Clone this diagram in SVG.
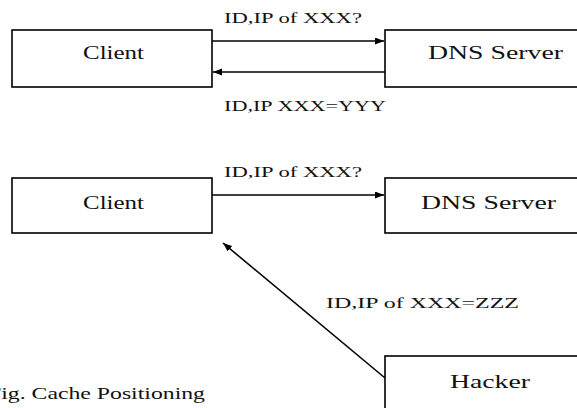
<svg xmlns="http://www.w3.org/2000/svg" width="577" height="408" viewBox="0 0 577 408">
<style>
.box{fill:#fff;stroke:#000;stroke-width:1.6}
.conn{stroke:#000;stroke-width:1.6;fill:none}
text{font-family:'Liberation Serif','Times New Roman',Times,serif;fill:#111}
.n{font-size:19px}
.l{font-size:15px}
</style>
<defs>
<marker id="ah" markerUnits="userSpaceOnUse" markerWidth="10" markerHeight="8" refX="9" refY="3.5" orient="auto">
<path d="M0,0 L9,3.5 L0,7 z" fill="#000"/>
</marker>
</defs>
<rect width="577" height="408" fill="#fff"/>
<g id="client1">
<rect class="box" x="12" y="30" width="200" height="57"/>
<text class="n" x="83" y="59" textLength="61" lengthAdjust="spacingAndGlyphs">Client</text>
</g>
<g id="dns1">
<rect class="box" x="385" y="30" width="200" height="57"/>
<text class="n" x="428" y="59" textLength="135" lengthAdjust="spacingAndGlyphs">DNS Server</text>
</g>
<g id="client2">
<rect class="box" x="12" y="178" width="200" height="55"/>
<text class="n" x="83" y="209" textLength="61" lengthAdjust="spacingAndGlyphs">Client</text>
</g>
<g id="dns2">
<rect class="box" x="385" y="178" width="200" height="55"/>
<text class="n" x="421" y="209" textLength="135" lengthAdjust="spacingAndGlyphs">DNS Server</text>
</g>
<g id="hacker">
<rect class="box" x="385" y="356" width="200" height="60"/>
<text class="n" x="450" y="388" textLength="80" lengthAdjust="spacingAndGlyphs">Hacker</text>
</g>
<g id="connectors">
<line class="conn" x1="212" y1="41" x2="384" y2="41" marker-end="url(#ah)"/>
<line class="conn" x1="385" y1="72" x2="213" y2="72" marker-end="url(#ah)"/>
<line class="conn" x1="212" y1="195" x2="384" y2="195" marker-end="url(#ah)"/>
<line class="conn" x1="385" y1="378" x2="223" y2="243" marker-end="url(#ah)"/>
</g>
<g id="labels">
<text class="l" x="224" y="23" textLength="138" lengthAdjust="spacingAndGlyphs">ID,IP of XXX?</text>
<text class="l" x="224" y="111" textLength="162" lengthAdjust="spacingAndGlyphs">ID,IP XXX=YYY</text>
<text class="l" x="224" y="177" textLength="138" lengthAdjust="spacingAndGlyphs">ID,IP of XXX?</text>
<text class="l" x="326" y="308" textLength="193" lengthAdjust="spacingAndGlyphs">ID,IP of XXX=ZZZ</text>
<text font-size="17" x="-12" y="399" textLength="217" lengthAdjust="spacingAndGlyphs">Fig. Cache Positioning</text>
</g>
</svg>
